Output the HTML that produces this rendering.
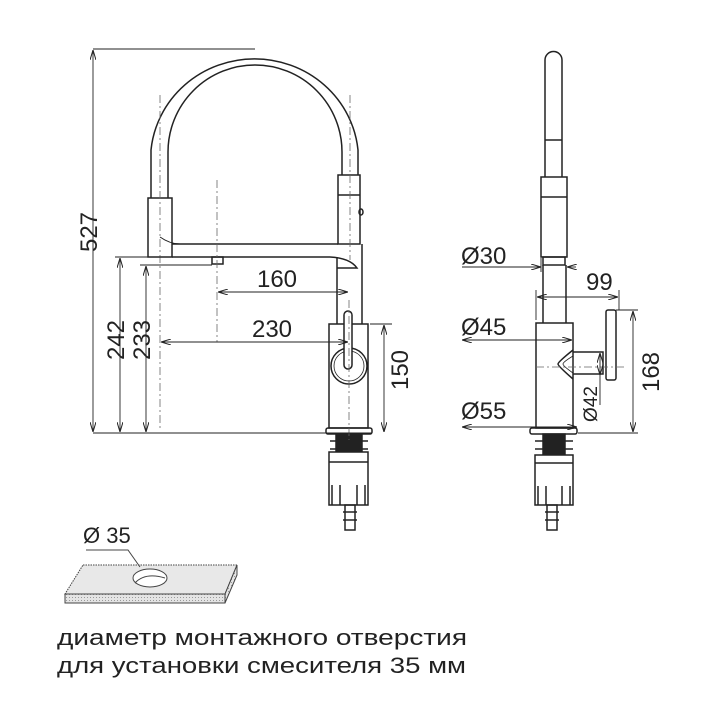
<!DOCTYPE html>
<html><head><meta charset="utf-8"><style>
html,body{margin:0;padding:0;background:#fff;}
svg{display:block}
text{font-family:"Liberation Sans","DejaVu Sans",sans-serif;fill:#222}
</style></head><body>
<svg width="720" height="720" viewBox="0 0 720 720" xmlns="http://www.w3.org/2000/svg">
<defs>
<marker id="a" markerWidth="10" markerHeight="6" refX="10" refY="3" orient="auto-start-reverse" markerUnits="userSpaceOnUse"><path d="M0,0 L10,3 L0,6" fill="none" stroke="#222" stroke-width="1"/></marker>
<pattern id="dots" width="3" height="3" patternUnits="userSpaceOnUse"><rect width="3" height="3" fill="#e4e4e4"/><rect width="1" height="1" fill="#999"/></pattern>
</defs>
<g fill="none" stroke="#222" stroke-width="1.5">
<path d="M151,198 L151,150 A104,101 0 0 1 358,150 L358,175"/>
<path d="M168,198 L168,152 A87,87 0 0 1 342,152 L342,175"/>
<rect x="148" y="198" width="24" height="59" fill="#fff"/>
<path d="M172,244 L338,244 M172,257 L330,257 Q350,258 357,268 L337,268"/>
<path d="M160,237 Q170,244 180,244" stroke-width="1"/>
<rect x="338" y="175" width="22" height="69" fill="#fff"/>
<line x1="338" y1="195" x2="360" y2="195"/>
<ellipse cx="361" cy="212" rx="2" ry="3"/>
<rect x="212" y="257" width="11" height="7"/>
<path d="M337,257 L337,324 M362,244 L362,324"/>
<rect x="329" y="324" width="39" height="104" fill="#fff"/>
<circle cx="349" cy="366" r="18"/>
<circle cx="349" cy="366" r="15" stroke-width="0.8"/>
<rect x="344" y="311" width="8" height="58" rx="4" fill="#fff"/>
<rect x="326" y="428" width="46" height="6" rx="2"/>
<rect x="336" y="434" width="26" height="18" fill="#222"/>
<line x1="330" y1="441" x2="368" y2="441"/><line x1="330" y1="449" x2="368" y2="449"/>
<rect x="329" y="452" width="39" height="53" fill="#fff"/>
<line x1="329" y1="462" x2="368" y2="462"/>
<path d="M332,505 V485 M340,505 V485 M357,505 V485 M365,505 V485"/>
<rect x="345" y="505" width="10" height="25"/>
<line x1="343" y1="512" x2="357" y2="512"/><line x1="343" y1="520" x2="357" y2="520"/>
</g>
<g stroke="#666" stroke-width="0.8" stroke-dasharray="8,3,2,3" fill="none">
<line x1="217" y1="180" x2="217" y2="342"/>
<line x1="349" y1="300" x2="349" y2="440"/>
<line x1="160" y1="95" x2="160" y2="430"/>
<line x1="350" y1="95" x2="350" y2="260"/>
</g>
<g stroke="#222" stroke-width="0.9" fill="none">
<line x1="93" y1="49" x2="255" y2="49"/>
<line x1="93" y1="50" x2="93" y2="432" marker-start="url(#a)" marker-end="url(#a)"/>
<line x1="93" y1="433" x2="372" y2="433"/>
<line x1="115" y1="257" x2="212" y2="257"/>
<line x1="120" y1="258" x2="120" y2="432" marker-start="url(#a)" marker-end="url(#a)"/>
<line x1="140" y1="265" x2="212" y2="265"/>
<line x1="146" y1="266" x2="146" y2="432" marker-start="url(#a)" marker-end="url(#a)"/>
<line x1="218" y1="292" x2="348" y2="292" marker-start="url(#a)" marker-end="url(#a)"/>
<line x1="161" y1="342" x2="348" y2="342" marker-start="url(#a)" marker-end="url(#a)"/>
<line x1="370" y1="324" x2="392" y2="324"/>
<line x1="384" y1="325" x2="384" y2="432" marker-start="url(#a)" marker-end="url(#a)"/>
</g>
<text font-size="24" transform="translate(97,232) rotate(-90)" text-anchor="middle">527</text>
<text font-size="24" transform="translate(124,340) rotate(-90)" text-anchor="middle">242</text>
<text font-size="24" transform="translate(150,340) rotate(-90)" text-anchor="middle">233</text>
<text x="277" y="287" font-size="24" text-anchor="middle">160</text>
<text x="272" y="337" font-size="24" text-anchor="middle">230</text>
<text font-size="24" transform="translate(408,370) rotate(-90)" text-anchor="middle">150</text>

<g fill="none" stroke="#222" stroke-width="1.5">
<path d="M545,177 L545,60 A8.5,8.5 0 0 1 562,60 L562,177"/>
<line x1="545" y1="140" x2="562" y2="140"/>
<rect x="541" y="177" width="26" height="80" fill="#fff"/>
<line x1="541" y1="197" x2="567" y2="197"/>
<rect x="543" y="257" width="22" height="8"/>
<path d="M543,265 V323 M566,265 V323"/>
<rect x="536" y="323" width="37" height="105" fill="#fff"/>
<path d="M573,352 L603,352 L603,374 L573,374"/>
<path d="M573,350 Q558,362 558,364 Q558,366 573,379"/>
<path d="M573,356 Q563,362 563,364 Q563,366 573,373" stroke-width="0.8"/>
<rect x="606" y="310" width="10" height="70" rx="2" fill="#fff"/>
<rect x="530" y="428" width="47" height="6" rx="2"/>
<rect x="543" y="434" width="22" height="20" fill="#222"/>
<line x1="535" y1="441" x2="573" y2="441"/><line x1="535" y1="449" x2="573" y2="449"/>
<rect x="535" y="455" width="38" height="50" fill="#fff"/>
<line x1="535" y1="463" x2="573" y2="463"/>
<path d="M538,505 V486 M546,505 V486 M562,505 V486 M570,505 V486"/>
<rect x="547" y="505" width="10" height="25"/>
<line x1="545" y1="512" x2="559" y2="512"/><line x1="545" y1="520" x2="559" y2="520"/>
</g>
<g stroke="#666" stroke-width="0.8" stroke-dasharray="8,3,2,3" fill="none">
<line x1="536" y1="367" x2="625" y2="367"/>
</g>
<g stroke="#222" stroke-width="0.9" fill="none">
<line x1="462" y1="267" x2="541" y2="267" marker-end="url(#a)"/>
<line x1="576" y1="267" x2="567" y2="267" marker-end="url(#a)"/>
<line x1="541" y1="258" x2="541" y2="272"/>
<line x1="536" y1="290" x2="536" y2="320"/>
<line x1="619" y1="290" x2="619" y2="310"/>
<line x1="537" y1="297" x2="618" y2="297" marker-start="url(#a)" marker-end="url(#a)"/>
<line x1="462" y1="340" x2="572" y2="340" marker-start="url(#a)" marker-end="url(#a)"/>
<line x1="462" y1="427" x2="577" y2="427" marker-start="url(#a)" marker-end="url(#a)"/>
<line x1="616" y1="310" x2="638" y2="310"/>
<line x1="578" y1="433" x2="638" y2="433"/>
<line x1="633" y1="311" x2="633" y2="432" marker-start="url(#a)" marker-end="url(#a)"/>
<line x1="600" y1="353" x2="600" y2="375" marker-start="url(#a)" marker-end="url(#a)"/>
<line x1="600" y1="375" x2="600" y2="405"/>
</g>
<text x="461" y="264" font-size="24">Ø30</text>
<text x="586" y="290" font-size="24">99</text>
<text x="461" y="335" font-size="24">Ø45</text>
<text x="461" y="419" font-size="24">Ø55</text>
<text font-size="24" transform="translate(659,372) rotate(-90)" text-anchor="middle">168</text>
<text font-size="19" transform="translate(597,404) rotate(-90)" text-anchor="middle">Ø42</text>

<g stroke="#444" stroke-width="1">
<path d="M83,565 L237,565 L225,594 L65,594 Z" fill="#e8e8e8" stroke-dasharray="1.5,1"/>
<path d="M65,594 L225,594 L225,603 L65,603 Z" fill="url(#dots)"/>
<path d="M225,594 L237,565 L237,575 L225,603 Z" fill="url(#dots)"/>
<ellipse cx="150" cy="578" rx="17" ry="9" fill="#fff"/>
<path d="M135,583 Q145,572 165,578" fill="none"/>
<path d="M86,550 L128,550 L140,567" fill="none"/>
</g>
<text x="83" y="543" font-size="22">Ø 35</text>

<text x="57" y="645" font-size="22" textLength="410" lengthAdjust="spacingAndGlyphs">диаметр монтажного отверстия</text>
<text x="57" y="673" font-size="22" textLength="409" lengthAdjust="spacingAndGlyphs">для установки смесителя 35 мм</text>
</svg>
</body></html>
